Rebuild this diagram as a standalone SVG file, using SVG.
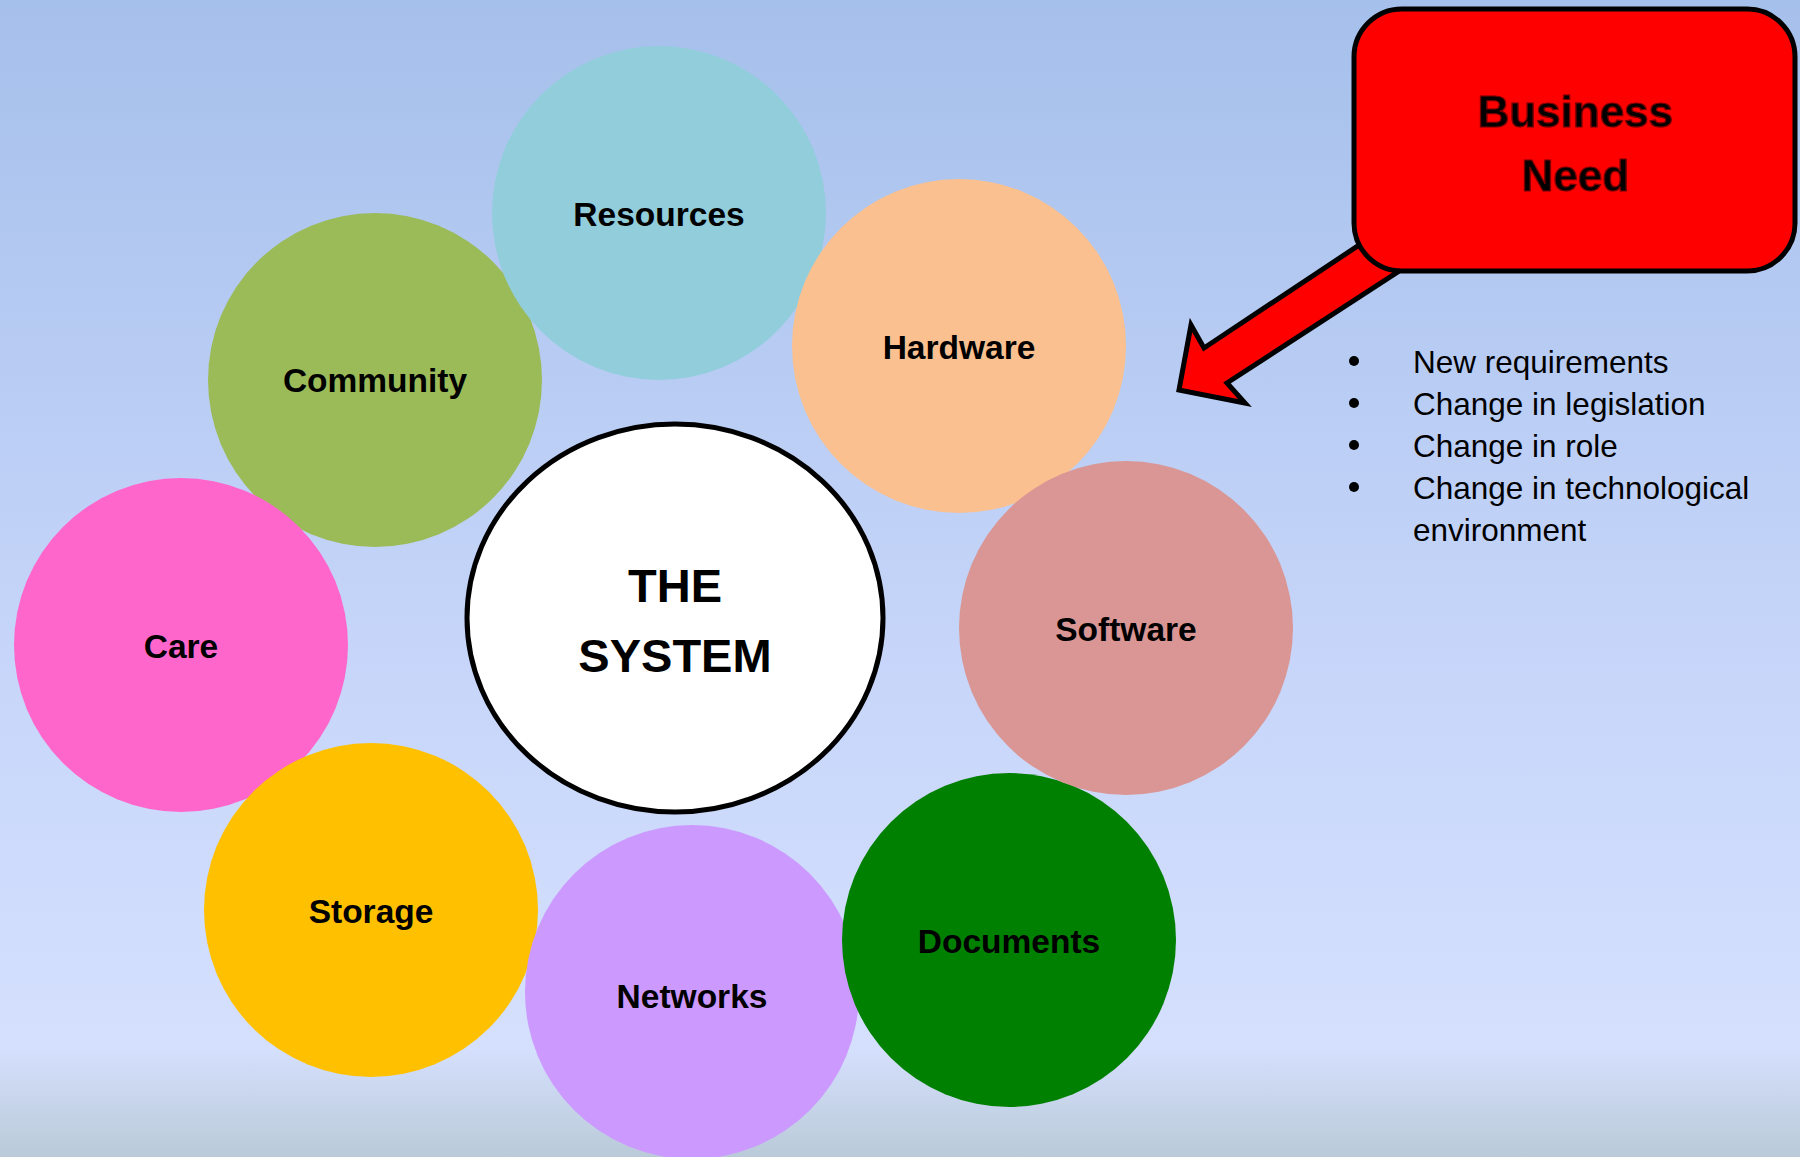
<svg xmlns="http://www.w3.org/2000/svg" width="1800" height="1157" viewBox="0 0 1800 1157">
  <defs>
    <linearGradient id="bg" x1="0" y1="0" x2="0" y2="1">
      <stop offset="0" stop-color="#A5C0EB"/>
      <stop offset="0.5" stop-color="#C3D3F8"/>
      <stop offset="0.905" stop-color="#D5E0FE"/>
      <stop offset="1" stop-color="#BACAD8"/>
    </linearGradient>
    <style>
      .bubble { stroke: none; }
      .lbl { font-family: "Liberation Sans", Arial, sans-serif; font-weight: bold; font-size: 33.5px; fill: #000; text-anchor: middle; }
      .sys { font-family: "Liberation Sans", Arial, sans-serif; font-weight: bold; font-size: 47px; fill: #000; text-anchor: middle; }
      .need { font-family: "Liberation Sans", Arial, sans-serif; font-weight: bold; font-size: 44px; fill: #000; stroke: #7a0000; stroke-width: 1.2; text-anchor: middle; }
      .item { font-family: "Liberation Sans", Arial, sans-serif; font-size: 31.5px; fill: #000; }
    </style>
  </defs>

  <rect x="0" y="0" width="1800" height="1157" fill="url(#bg)"/>

  <g id="node-community">
    <circle class="bubble" cx="375" cy="380" r="167" fill="#9BBB59"/>
    <text class="lbl" x="375" y="392">Community</text>
  </g>
  <g id="node-resources">
    <circle class="bubble" cx="659" cy="213" r="167" fill="#92CDDC"/>
    <text class="lbl" x="659" y="226">Resources</text>
  </g>
  <g id="node-hardware">
    <circle class="bubble" cx="959" cy="346" r="167" fill="#FAC090"/>
    <text class="lbl" x="959" y="359">Hardware</text>
  </g>
  <g id="node-care">
    <circle class="bubble" cx="181" cy="645" r="167" fill="#FF66CC"/>
    <text class="lbl" x="181" y="658">Care</text>
  </g>
  <g id="node-storage">
    <circle class="bubble" cx="371" cy="910" r="167" fill="#FFC000"/>
    <text class="lbl" x="371" y="923">Storage</text>
  </g>
  <g id="node-networks">
    <circle class="bubble" cx="692" cy="992" r="167" fill="#CC99FF"/>
    <text class="lbl" x="692" y="1008">Networks</text>
  </g>
  <g id="node-documents">
    <circle class="bubble" cx="1009" cy="940" r="167" fill="#008000"/>
    <text class="lbl" x="1009" y="953">Documents</text>
  </g>
  <g id="node-software">
    <circle class="bubble" cx="1126" cy="628" r="167" fill="#D99694"/>
    <text class="lbl" x="1126" y="641">Software</text>
  </g>

  <g id="node-system">
    <ellipse cx="675" cy="618" rx="208" ry="194" fill="#FFFFFF" stroke="#000" stroke-width="5"/>
    <text class="sys" x="675" y="602">THE</text>
    <text class="sys" x="675" y="672">SYSTEM</text>
  </g>

  <g id="connectors">
    <polygon points="1430,198 1450,238 1227,383 1245,403 1179,390 1191,325 1204,348" fill="#FF0000" stroke="#000" stroke-width="5" stroke-linejoin="miter"/>
  </g>

  <g id="node-business-need">
    <rect x="1354" y="9" width="441" height="262" rx="48" ry="48" fill="#FF0000" stroke="#000" stroke-width="5"/>
    <text class="need" x="1575" y="127">Business</text>
    <text class="need" x="1575" y="191">Need</text>
  </g>

  <g id="bullets">
    <circle cx="1354" cy="361" r="5" fill="#000"/>
    <circle cx="1354" cy="403" r="5" fill="#000"/>
    <circle cx="1354" cy="445" r="5" fill="#000"/>
    <circle cx="1354" cy="487" r="5" fill="#000"/>
    <text class="item" x="1413" y="373">New requirements</text>
    <text class="item" x="1413" y="415">Change in legislation</text>
    <text class="item" x="1413" y="457">Change in role</text>
    <text class="item" x="1413" y="499">Change in technological</text>
    <text class="item" x="1413" y="541">environment</text>
  </g>
</svg>
